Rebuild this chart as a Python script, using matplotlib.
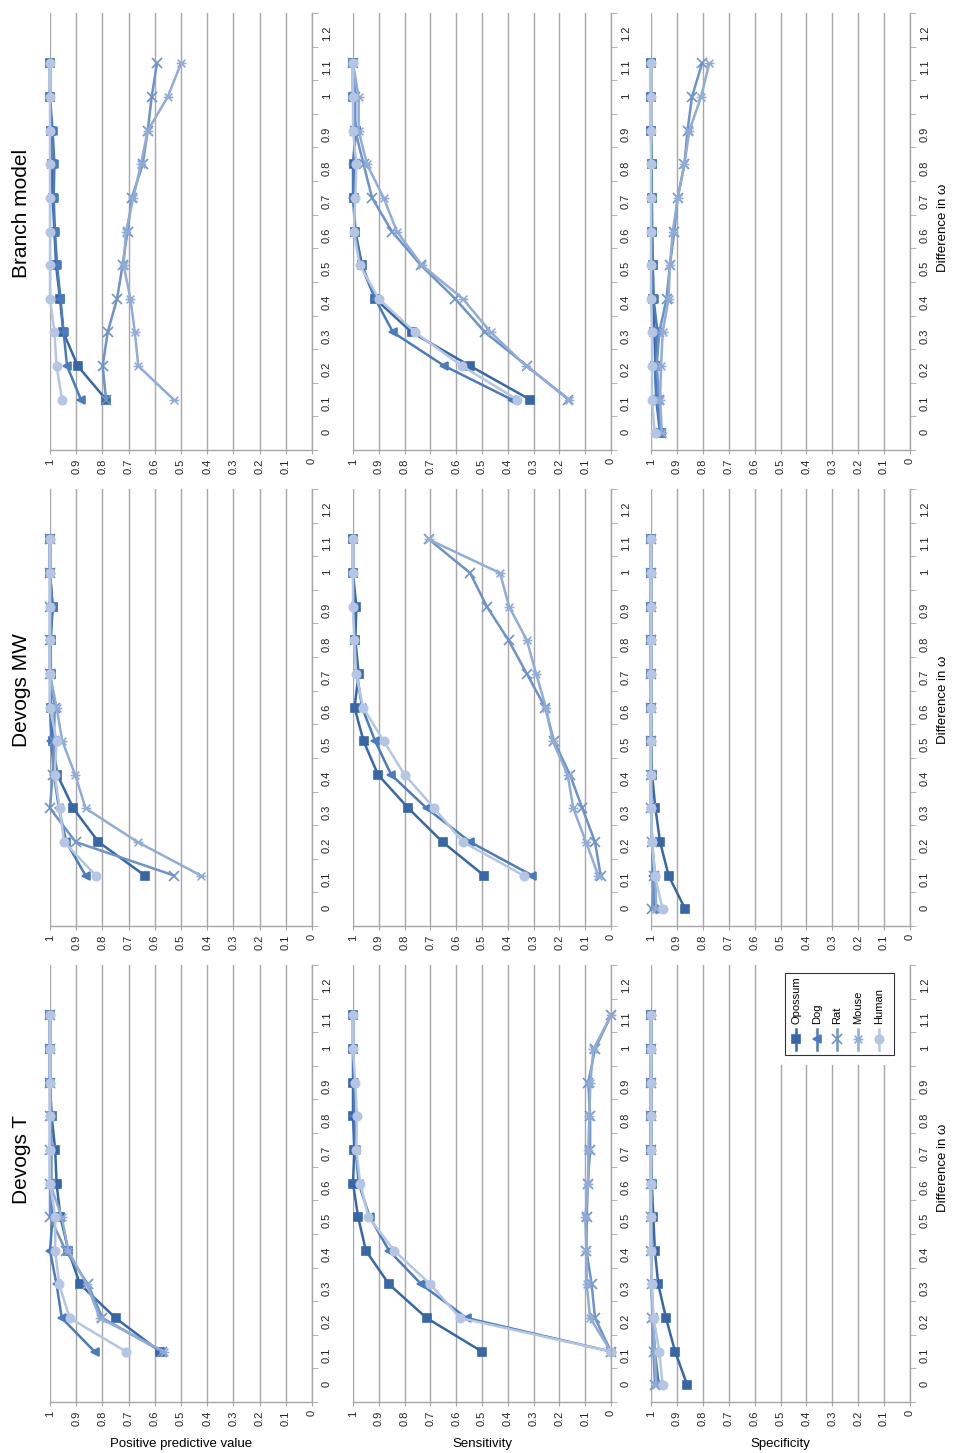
import numpy as np
import matplotlib
matplotlib.use("Agg")
import matplotlib.pyplot as plt
from matplotlib.path import Path
from matplotlib.lines import Line2D
from matplotlib.patches import Rectangle

plt.rcParams["font.family"] = ["Liberation Sans", "DejaVu Sans"]

# category axis (difference in omega) and value axis labels
diff_labels = ["0", "0.1", "0.2", "0.3", "0.4", "0.5", "0.6",
               "0.7", "0.8", "0.9", "1", "1.1", "1.2"]
value_labels = ["0", "0.1", "0.2", "0.3", "0.4", "0.5",
                "0.6", "0.7", "0.8", "0.9", "1"]
species = ["Opossum", "Dog", "Rat", "Mouse", "Human"]

N = None
# each table: rows = Opossum, Dog, Rat, Mouse, Human; columns = diff 0 .. 1.1
t_ppv = [
    [N, 0.58, 0.75, 0.885, 0.93, 0.96, 0.975, 0.98, 0.994, 1.0, 1.0, 1.0],
    [N, 0.83, 0.955, 0.975, 1.0, 0.99, 0.995, 0.995, 0.995, 1.0, 1.0, 1.0],
    [N, 0.573, 0.80, 0.855, 0.94, 1.0, 1.0, 1.0, 1.0, 1.0, 1.0, 1.0],
    [N, 0.565, 0.81, 0.86, 0.93, 0.955, 1.0, 1.0, 1.0, 1.0, 1.0, 1.0],
    [N, 0.71, 0.925, 0.965, 0.98, 0.98, 1.0, 1.0, 1.0, 1.0, 1.0, 1.0],
]
t_sens = [
    [N, 0.50, 0.715, 0.86, 0.95, 0.98, 1.0, 0.995, 1.0, 1.0, 1.0, 1.0],
    [N, 0.0, 0.56, 0.735, 0.86, 0.935, 0.978, 0.99, 0.995, 0.997, 1.0, 1.0],
    [N, 0.0, 0.062, 0.075, 0.095, 0.094, 0.09, 0.081, 0.081, 0.088, 0.062, 0.0],
    [N, 0.0, 0.081, 0.094, 0.095, 0.10, 0.088, 0.088, 0.084, 0.08, 0.068, 0.0],
    [N, 0.0, 0.585, 0.70, 0.84, 0.94, 0.972, 0.987, 0.985, 0.991, 1.0, 1.0],
]
t_spec = [
    [0.86, 0.907, 0.942, 0.972, 0.985, 0.991, 0.997, 1.0, 1.0, 1.0, 1.0, 1.0],
    [0.97, 0.985, 0.994, 0.997, 0.999, 1.0, 1.0, 1.0, 1.0, 1.0, 1.0, 1.0],
    [0.985, 0.99, 0.995, 0.998, 1.0, 1.0, 1.0, 1.0, 1.0, 1.0, 1.0, 1.0],
    [0.98, 0.985, 0.993, 0.998, 1.0, 1.0, 1.0, 1.0, 1.0, 1.0, 1.0, 1.0],
    [0.955, 0.968, 0.99, 0.997, 1.0, 1.0, 1.0, 1.0, 1.0, 1.0, 1.0, 1.0],
]
mw_ppv = [
    [N, 0.638, 0.815, 0.911, 0.972, 0.99, 0.997, 0.997, 0.997, 0.99, 1.0, 1.0],
    [N, 0.864, 0.938, 0.966, 0.985, 0.995, 1.0, 1.0, 1.0, 0.99, 1.0, 1.0],
    [N, 0.526, 0.902, 1.0, 0.99, 0.985, 0.982, 1.0, 1.0, 1.0, 1.0, 1.0],
    [N, 0.424, 0.666, 0.864, 0.904, 0.953, 0.975, 1.0, 1.0, 1.0, 1.0, 1.0],
    [N, 0.825, 0.946, 0.963, 0.982, 0.975, 1.0, 1.0, 1.0, 1.0, 1.0, 1.0],
]
mw_sens = [
    [N, 0.492, 0.653, 0.785, 0.903, 0.959, 0.994, 0.978, 0.991, 0.987, 1.0, 1.0],
    [N, 0.305, 0.546, 0.714, 0.852, 0.914, 0.965, 0.985, 0.994, 0.997, 1.0, 1.0],
    [N, 0.04, 0.062, 0.111, 0.159, 0.221, 0.255, 0.326, 0.397, 0.481, 0.546, 0.705],
    [N, 0.049, 0.097, 0.146, 0.168, 0.226, 0.252, 0.29, 0.326, 0.395, 0.43, 0.707],
    [N, 0.339, 0.574, 0.685, 0.80, 0.881, 0.961, 0.988, 0.995, 1.0, 1.0, 1.0],
]
mw_spec = [
    [0.868, 0.932, 0.965, 0.983, 0.996, 0.999, 1.0, 1.0, 1.0, 1.0, 1.0, 1.0],
    [0.987, 0.991, 0.996, 1.0, 1.0, 1.0, 1.0, 1.0, 1.0, 1.0, 1.0, 1.0],
    [0.995, 0.987, 0.995, 1.0, 1.0, 1.0, 1.0, 1.0, 1.0, 1.0, 1.0, 1.0],
    [0.98, 0.983, 0.997, 1.0, 1.0, 1.0, 1.0, 1.0, 1.0, 1.0, 1.0, 1.0],
    [0.955, 0.985, 0.996, 1.0, 1.0, 1.0, 1.0, 1.0, 1.0, 1.0, 1.0, 1.0],
]
br_ppv = [
    [N, 0.786, 0.894, 0.949, 0.962, 0.977, 0.983, 0.99, 0.994, 0.996, 1.0, 1.0],
    [N, 0.882, 0.935, 0.948, 0.96, 0.973, 0.981, 0.986, 0.983, 0.99, 1.0, 1.0],
    [N, 0.786, 0.799, 0.78, 0.744, 0.723, 0.704, 0.688, 0.646, 0.627, 0.612, 0.592],
    [N, 0.528, 0.663, 0.676, 0.693, 0.719, 0.71, 0.682, 0.653, 0.627, 0.551, 0.50],
    [N, 0.954, 0.975, 0.983, 1.0, 1.0, 1.0, 1.0, 1.0, 1.0, 1.0, 1.0],
]
br_sens = [
    [N, 0.314, 0.546, 0.772, 0.914, 0.965, 0.991, 0.997, 0.997, 0.99, 1.0, 1.0],
    [N, 0.385, 0.646, 0.845, 0.914, 0.969, 0.991, 1.0, 1.0, 0.99, 1.0, 1.0],
    [N, 0.165, 0.326, 0.488, 0.604, 0.737, 0.849, 0.926, 0.959, 0.991, 0.991, 1.0],
    [N, 0.161, 0.329, 0.466, 0.574, 0.733, 0.83, 0.881, 0.946, 0.978, 0.978, 1.0],
    [N, 0.363, 0.578, 0.759, 0.90, 0.974, 0.997, 0.991, 0.987, 1.0, 1.0, 1.0],
]
br_spec = [
    [0.961, 0.978, 0.983, 0.987, 0.991, 0.994, 0.996, 0.997, 0.998, 1.0, 1.0, 1.0],
    [0.965, 0.98, 0.985, 0.975, 0.99, 0.993, 0.996, 0.997, 0.998, 1.0, 1.0, 1.0],
    [0.961, 0.968, 0.978, 0.968, 0.94, 0.927, 0.91, 0.897, 0.871, 0.859, 0.842, 0.803],
    [0.958, 0.965, 0.961, 0.955, 0.932, 0.927, 0.916, 0.897, 0.871, 0.852, 0.807, 0.775],
    [0.986, 0.996, 0.996, 0.996, 1.0, 1.0, 1.0, 1.0, 1.0, 1.0, 1.0, 1.0],
]

# styles
colors = ["#3867a8", "#4a7bbd", "#6d93c9", "#90acd7", "#b4c6e4"]
star = Path([(-1, -1), (1, 1), (-1, 1), (1, -1), (-1.25, 0), (1.25, 0)],
            [Path.MOVETO, Path.LINETO] * 3)
markers = ["s", "<", "x", star, "o"]
msizes = [5.5, 6, 6.5, 7, 6]

W, H = 956, 1453
fx = lambda px: px / W
fy = lambda py: 1 - py / H

fig = plt.figure(figsize=(W / 100, H / 100), dpi=100)

cols = [(50, 312), (353, 611), (651, 910)]     # PPV, sensitivity, specificity
rows = [(13, 450), (489, 926), (965, 1402)]    # Branch model, Devogs MW, Devogs T
tables = [[br_ppv, br_sens, br_spec],
          [mw_ppv, mw_sens, mw_spec],
          [t_ppv, t_sens, t_spec]]

grey = "#a6a6a6"
for r, (y0, y1) in enumerate(rows):
    for c, (x0, x1) in enumerate(cols):
        ax = fig.add_axes([fx(x0), fy(y1), (x1 - x0) / W, (y1 - y0) / H])
        table = tables[r][c]
        for i in range(len(species)):
            v = np.array([np.nan if a is None else a for a in table[i]], dtype=float)
            k = np.arange(len(v))
            ax.plot(v, k, color=colors[i], lw=1.8, marker=markers[i], ms=msizes[i],
                    mfc=colors[i], mec=colors[i], mew=1.2, clip_on=False)
        ax.set_xlim(1, 0)
        ax.set_ylim(-0.5, 12.5)
        ax.set_xticks(np.arange(0, 1.01, 0.1))
        ax.set_xticklabels(value_labels)
        ax.grid(axis="x", color=grey, lw=1.0)
        ax.set_axisbelow(True)
        ax.tick_params(axis="x", length=3, color=grey, pad=3,
                       labelrotation=90, labelsize=8, labelcolor="#222222")
        ax.yaxis.tick_right()
        ax.set_yticks(np.arange(13))
        ax.set_yticklabels(diff_labels)
        ax.set_yticks(np.arange(-0.5, 13, 1), minor=True)
        ax.tick_params(axis="y", which="major", length=0, pad=7,
                       labelrotation=90, labelsize=8, labelcolor="#222222")
        ax.tick_params(axis="y", which="minor", length=4, color=grey)
        for s in ["top", "left"]:
            ax.spines[s].set_visible(False)
        for s in ["bottom", "right"]:
            ax.spines[s].set_color(grey)
            ax.spines[s].set_linewidth(1.0)

# titles
fig.text(fx(22), fy(1160), "Devogs T", rotation=90, ha="center", va="center", fontsize=15)
fig.text(fx(22), fy(690), "Devogs MW", rotation=90, ha="center", va="center", fontsize=15)
fig.text(fx(22), fy(213), "Branch model", rotation=90, ha="center", va="center", fontsize=15)

for yc in [1168, 700, 228]:
    fig.text(fx(943), fy(yc), "Difference in ω", rotation=90,
             ha="center", va="center", fontsize=9.5)

fig.text(fx(181), fy(1444), "Positive predictive value", ha="center", va="center", fontsize=9.5)
fig.text(fx(482), fy(1444), "Sensitivity", ha="center", va="center", fontsize=9.5)
fig.text(fx(780), fy(1444), "Specificity", ha="center", va="center", fontsize=9.5)

# legend (rotated), drawn by hand
fig.add_artist(Rectangle((fx(770), fy(1065)), 130 / W, 100 / H, transform=fig.transFigure,
                         facecolor="white", edgecolor="none", zorder=3))
fig.add_artist(Rectangle((fx(785), fy(1055)), 109 / W, 82 / H, transform=fig.transFigure,
                         facecolor="white", edgecolor="#333333", lw=0.8, zorder=4))
for i, px in enumerate([796, 817, 837, 858, 879]):
    fig.add_artist(Line2D([fx(px), fx(px)], [fy(1050), fy(1029)], transform=fig.transFigure,
                          color=colors[i], lw=1.8, zorder=5))
    fig.add_artist(Line2D([fx(px)], [fy(1039)], transform=fig.transFigure, color=colors[i],
                          marker=markers[i], ms=msizes[i], mfc=colors[i], mec=colors[i],
                          mew=1.2, zorder=5))
    fig.text(fx(px), fy(1024), species[i], rotation=90, ha="center", va="bottom",
             fontsize=8, zorder=6)

fig.savefig("out.png", dpi=100)
